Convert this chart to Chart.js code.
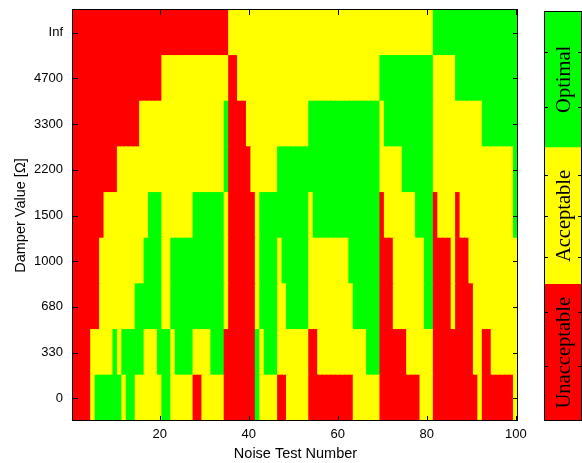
<!DOCTYPE html>
<html>
<head>
<meta charset="utf-8">
<script src="https://cdn.jsdelivr.net/npm/chart.js@4.4.0/dist/chart.umd.min.js"></script>
<style>
  html, body { margin: 0; padding: 0; background: #fff; }
  #wrap { position: relative; width: 582px; height: 463px; overflow: hidden; }
  #main { position: absolute; left: 0; top: 0; }
  #cbar { position: absolute; left: 540px; top: 0; }
</style>
</head>
<body>
<div id="wrap">
  <canvas id="main" width="582" height="463"></canvas>
  <canvas id="cbar" width="42" height="463"></canvas>
</div>
<script>
const damperLabels = ["0", "330", "680", "1000", "1500", "2200", "3300", "4700", "Inf"];
const testNumbers = [
  1, 2, 3, 4, 5, 6, 7, 8, 9, 10, 11, 12, 13, 14, 15, 16, 17, 18, 19, 20,
  21, 22, 23, 24, 25, 26, 27, 28, 29, 30, 31, 32, 33, 34, 35, 36, 37, 38, 39, 40,
  41, 42, 43, 44, 45, 46, 47, 48, 49, 50, 51, 52, 53, 54, 55, 56, 57, 58, 59, 60,
  61, 62, 63, 64, 65, 66, 67, 68, 69, 70, 71, 72, 73, 74, 75, 76, 77, 78, 79, 80,
  81, 82, 83, 84, 85, 86, 87, 88, 89, 90, 91, 92, 93, 94, 95, 96, 97, 98, 99, 100
];
const xTicks = [20, 40, 60, 80, 100];
const ratingNames = ["Unacceptable", "Acceptable", "Optimal"];
const ratingColors = ["#ff0000", "#ffff00", "#00ff00"];
const ratingSpan = [1, 1, 1];
const cbarTicks = [0.4, 0.8, 1.2, 1.5, 1.8, 2.3, 2.7];

// 0 = unacceptable, 1 = acceptable, 2 = optimal, one entry per noise test
const rating0 = [
  0,0,0,0,1,2,2,2,2,2, 2,1,2,2,1,1,1,1,1,1, 2,2,1,1,1,1,1,0,0,1, 1,1,1,1,0,0,0,0,0,0,
  0,2,1,1,1,1,0,0,1,1, 1,1,1,0,0,0,0,0,0,0, 0,0,0,1,1,1,1,1,1,0, 0,0,0,0,0,0,0,0,1,1,
  1,0,0,0,0,0,0,0,0,0, 0,1,0,0,0,0,0,0,0,1
];
const rating330 = [
  0,0,0,0,1,1,1,1,1,2, 1,2,2,2,2,2,1,1,1,2, 2,2,1,2,2,2,2,1,1,1, 1,2,2,2,0,0,0,0,0,0,
  0,2,1,2,2,2,1,1,1,1, 1,1,1,0,0,1,1,1,1,1, 1,1,1,1,1,1,2,2,2,0, 0,0,0,0,0,1,1,1,1,1,
  1,0,0,0,0,0,0,0,0,0, 1,1,0,0,1,1,1,1,1,1
];
const rating680 = [
  0,0,0,0,0,0,1,1,1,1, 1,1,1,1,2,2,2,2,2,2, 1,1,2,2,2,2,2,2,2,2, 2,2,2,2,1,0,0,0,0,0,
  0,1,2,2,2,2,1,1,2,2, 2,2,2,1,1,1,1,1,1,1, 1,1,1,2,2,2,2,2,2,0, 0,0,1,1,1,1,1,1,1,2,
  2,0,0,0,0,1,0,0,0,0, 1,1,1,1,1,1,1,1,1,1
];
const rating1000 = [
  0,0,0,0,0,0,1,1,1,1, 1,1,1,1,1,1,2,2,2,2, 1,1,2,2,2,2,2,2,2,2, 2,2,2,2,1,0,0,0,0,0,
  0,1,2,2,2,2,1,2,2,2, 2,2,2,1,1,1,1,1,1,1, 1,1,2,2,2,2,2,2,2,0, 0,0,1,1,1,1,1,1,1,2,
  2,0,0,0,0,1,0,0,0,1, 1,1,1,1,1,1,1,1,1,1
];
const rating1500 = [
  0,0,0,0,0,0,0,1,1,1, 1,1,1,1,1,1,1,2,2,2, 1,1,1,1,1,1,1,2,2,2, 2,2,2,2,1,0,0,0,0,0,
  0,1,2,2,2,2,2,2,2,2, 2,2,2,1,2,2,2,2,2,2, 2,2,2,2,2,2,2,2,2,0, 1,1,1,1,1,1,1,2,2,2,
  2,0,1,1,1,1,0,1,1,1, 1,1,1,1,1,1,1,1,1,2
];
const rating2200 = [
  0,0,0,0,0,0,0,0,0,0, 1,1,1,1,1,1,1,1,1,1, 1,1,1,1,1,1,1,1,1,1, 1,1,1,1,2,0,0,0,0,0,
  1,1,1,1,1,1,2,2,2,2, 2,2,2,2,2,2,2,2,2,2, 2,2,2,2,2,2,2,2,2,1, 1,1,1,1,2,2,2,2,2,2,
  2,1,1,1,1,1,1,1,1,1, 1,1,1,1,1,1,1,1,1,2
];
const rating3300 = [
  0,0,0,0,0,0,0,0,0,0, 0,0,0,0,0,1,1,1,1,1, 1,1,1,1,1,1,1,1,1,1, 1,1,1,1,2,0,0,0,0,1,
  1,1,1,1,1,1,1,1,1,1, 1,1,1,2,2,2,2,2,2,2, 2,2,2,2,2,2,2,2,2,1, 2,2,2,2,2,2,2,2,2,2,
  2,1,1,1,1,1,1,1,1,1, 1,1,2,2,2,2,2,2,2,2
];
const rating4700 = [
  0,0,0,0,0,0,0,0,0,0, 0,0,0,0,0,0,0,0,0,0, 1,1,1,1,1,1,1,1,1,1, 1,1,1,1,1,0,0,1,1,1,
  1,1,1,1,1,1,1,1,1,1, 1,1,1,1,1,1,1,1,1,1, 1,1,1,1,1,1,1,1,1,2, 2,2,2,2,2,2,2,2,2,2,
  2,1,1,1,1,1,2,2,2,2, 2,2,2,2,2,2,2,2,2,2
];
const ratingInf = [
  0,0,0,0,0,0,0,0,0,0, 0,0,0,0,0,0,0,0,0,0, 0,0,0,0,0,0,0,0,0,0, 0,0,0,0,0,1,1,1,1,1,
  1,1,1,1,1,1,1,1,1,1, 1,1,1,1,1,1,1,1,1,1, 1,1,1,1,1,1,1,1,1,1, 1,1,1,1,1,1,1,1,1,1,
  1,2,2,2,2,2,2,2,2,2, 2,2,2,2,2,2,2,2,2,2
];
const ratingRows = [rating0, rating330, rating680, rating1000, rating1500,
                    rating2200, rating3300, rating4700, ratingInf];

const axisFont = { family: "'Liberation Sans', Arial, sans-serif", size: 13 };
const titleFont = { family: "'Liberation Sans', Arial, sans-serif", size: 14.5 };

// each damper value is one row of floating bars, one bar per noise test
const datasets = ratingRows.map((row, r) => ({
  label: damperLabels[r],
  data: testNumbers.map(n => ({ x: n, y: [r - 0.5, r + 0.5] })),
  backgroundColor: row.map(v => ratingColors[v]),
  grouped: false,
  categoryPercentage: 1,
  barPercentage: 1,
  borderWidth: 0,
  inflateAmount: 0.6
}));

// box round the plot with small inward tick marks, like the original
const boxPlugin = {
  id: "box",
  afterDatasetsDraw(chart) {
    const { ctx, chartArea: a } = chart;
    const xs = chart.scales.x, ys = chart.scales.y;
    const len = 5;
    ctx.save();
    ctx.strokeStyle = "#000";
    ctx.lineWidth = 1;
    ctx.beginPath();
    xTicks.forEach(v => {
      const px = Math.round(xs.getPixelForValue(v)) + 0.5;
      ctx.moveTo(px, a.bottom); ctx.lineTo(px, a.bottom - len);
      ctx.moveTo(px, a.top); ctx.lineTo(px, a.top + len);
    });
    damperLabels.forEach((_, i) => {
      const py = Math.round(ys.getPixelForValue(i)) + 0.5;
      ctx.moveTo(a.left, py); ctx.lineTo(a.left + len, py);
      ctx.moveTo(a.right, py); ctx.lineTo(a.right - len, py);
    });
    ctx.stroke();
    ctx.strokeRect(a.left - 0.5, a.top - 0.5, a.right - a.left, a.bottom - a.top);
    ctx.restore();
  }
};

new Chart(document.getElementById("main"), {
  type: "bar",
  data: { datasets: datasets },
  options: {
    responsive: false,
    animation: false,
    devicePixelRatio: 1,
    layout: { padding: { left: 8, right: 64, top: 10, bottom: 0 } },
    plugins: { legend: { display: false }, tooltip: { enabled: false } },
    scales: {
      x: {
        type: "linear",
        min: 0.5,
        max: 100.5,
        offset: false,
        grid: { display: false, drawTicks: false },
        border: { display: false },
        ticks: { font: axisFont, color: "#000", padding: 6, maxRotation: 0 },
        afterBuildTicks: s => { s.ticks = xTicks.map(v => ({ value: v })); },
        afterFit: s => { s.height = 42; s.paddingLeft = 0; s.paddingRight = 0; },
        title: { display: true, text: "Noise Test Number", font: titleFont, color: "#000",
                 padding: { top: 0, bottom: 0 } }
      },
      y: {
        type: "linear",
        min: -0.5,
        max: 8.5,
        grid: { display: false, drawTicks: false },
        border: { display: false },
        ticks: { font: axisFont, color: "#000", padding: 10,
                 callback: v => damperLabels[v] },
        afterBuildTicks: s => { s.ticks = damperLabels.map((_, i) => ({ value: i })); },
        afterFit: s => { s.width = 65; s.paddingTop = 0; s.paddingBottom = 0; },
        title: { display: true, text: "Damper Value [Ω]", font: titleFont, color: "#000",
                 padding: { top: 4, bottom: 4 } }
      }
    }
  },
  plugins: [boxPlugin]
});

// colour bar: three stacked segments with their names written sideways
const cbarPlugin = {
  id: "cbarText",
  afterDatasetsDraw(chart) {
    const { ctx, chartArea: a } = chart;
    const ys = chart.scales.y;
    ctx.save();
    ctx.fillStyle = "#000";
    ctx.font = "20.5px 'Liberation Serif', 'Times New Roman', serif";
    ctx.textAlign = "center";
    ctx.textBaseline = "middle";
    chart.data.datasets.forEach((ds, i) => {
      const bar = chart.getDatasetMeta(i).data[0];
      const cy = (bar.y + bar.base) / 2;
      ctx.save();
      ctx.translate(bar.x + 2, cy);
      ctx.rotate(-Math.PI / 2);
      ctx.fillText(ds.label, 0, 0);
      ctx.restore();
    });
    ctx.strokeStyle = "#000";
    ctx.lineWidth = 1;
    ctx.beginPath();
    cbarTicks.forEach(v => {
      const py = Math.round(ys.getPixelForValue(v)) + 0.5;
      ctx.moveTo(a.left, py); ctx.lineTo(a.left + 4, py);
      ctx.moveTo(a.right, py); ctx.lineTo(a.right - 4, py);
    });
    ctx.stroke();
    ctx.strokeRect(a.left + 0.5, a.top + 0.5, a.right - a.left - 1, a.bottom - a.top - 1);
    ctx.restore();
  }
};

new Chart(document.getElementById("cbar"), {
  type: "bar",
  data: {
    labels: [""],
    datasets: ratingNames.map((name, i) => ({
      label: name,
      data: [ratingSpan[i]],
      backgroundColor: ratingColors[i],
      categoryPercentage: 1,
      barPercentage: 1,
      borderWidth: 0
    }))
  },
  options: {
    responsive: false,
    animation: false,
    devicePixelRatio: 1,
    layout: { padding: { left: 4, right: 0, top: 11, bottom: 42 } },
    plugins: { legend: { display: false }, tooltip: { enabled: false } },
    scales: {
      x: { display: false, stacked: true },
      y: { display: false, stacked: true, min: 0, max: 3 }
    }
  },
  plugins: [cbarPlugin]
});
</script>
</body>
</html>
